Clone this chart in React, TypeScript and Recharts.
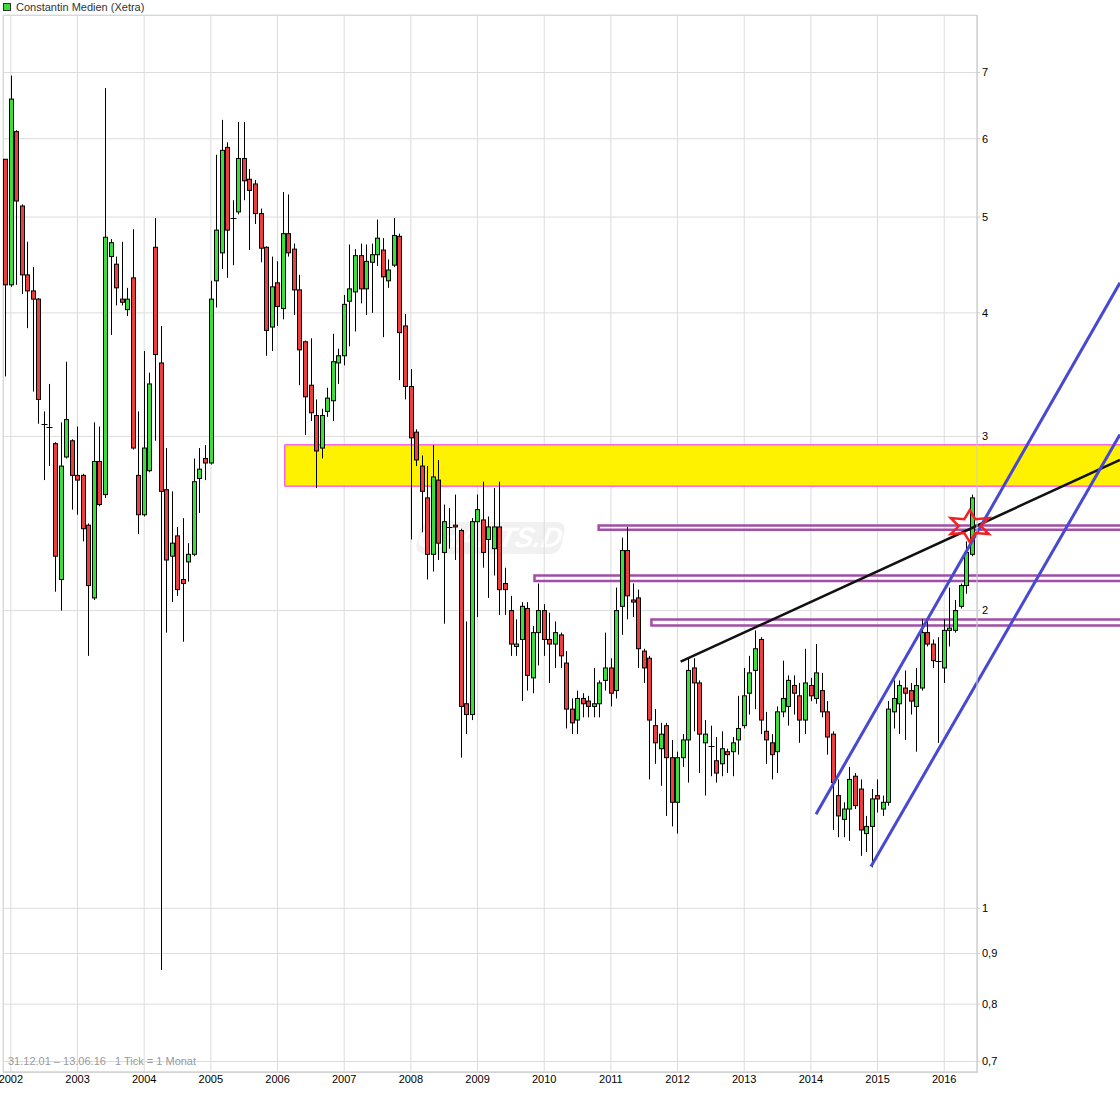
import React from 'react';
import { ComposedChart, Bar, XAxis, YAxis, CartesianGrid, ReferenceLine, ReferenceArea, ReferenceDot } from 'recharts';

// monthly candles, first candle = Dec 2001 (index 0)
const firstMonth = '2001-12';
const opens = [5.72,4.27,6.10,5.13,4.37,4.21,4.13,3.09,3.07,2.95,2.15,2.86,2.97,2.74,2.74,2.44,2.06,2.83,2.62,4.56,4.48,4.13,4.03,4.34,2.74,2.50,2.77,4.66,3.56,2.65,2.27,2.38,2.15,2.24,2.28,2.72,2.85,2.82,4.31,4.60,5.88,4.99,5.06,5.73,5.46,5.40,5.04,4.66,3.87,4.29,4.04,4.81,4.64,4.22,3.74,3.38,3.15,2.92,3.18,3.26,3.56,3.62,4.11,4.20,4.57,4.23,4.50,4.58,4.63,4.31,4.47,4.78,3.88,3.37,3.03,2.80,2.60,2.28,2.71,2.29,2.43,2.44,2.41,1.61,1.57,2.46,2.47,2.36,2.31,2.43,2.13,2.00,1.84,1.87,2.01,1.71,1.90,2.00,1.87,1.85,1.89,1.77,1.59,1.55,1.63,1.62,1.60,1.61,1.70,1.75,1.66,2.02,2.30,2.05,2.06,1.82,1.79,1.53,1.45,1.53,1.42,1.28,1.42,1.48,1.75,1.69,1.47,1.46,1.41,1.40,1.44,1.44,1.48,1.53,1.65,1.74,1.87,1.51,1.47,1.44,1.58,1.60,1.68,1.64,1.55,1.68,1.63,1.66,1.58,1.50,1.30,1.23,1.26,1.36,1.32,1.19,1.21,1.30,1.26,1.28,1.58,1.61,1.67,1.66,1.60,1.67,1.90,1.85,1.78,1.75,1.91,1.91,2.02,2.12,2.28];
const highs = [5.72,6.95,6.12,5.15,4.72,4.45,4.14,3.18,3.39,2.96,3.10,3.57,2.98,3.07,2.75,2.45,3.10,3.07,6.75,4.75,4.56,4.72,4.24,4.86,3.18,3.66,3.48,4.99,3.88,2.92,2.64,2.43,2.48,2.34,2.85,2.92,2.94,4.31,5.78,6.27,5.95,5.20,6.24,6.24,5.59,5.45,5.10,4.67,4.56,4.51,5.30,5.27,4.70,4.37,3.75,3.77,3.27,3.20,3.36,3.81,3.68,4.17,4.69,4.64,4.70,4.69,4.70,4.97,4.76,4.53,4.99,4.81,3.99,3.51,3.05,2.87,2.80,2.94,2.84,2.56,2.54,2.62,2.42,1.95,2.48,2.62,2.70,2.49,2.66,2.70,2.21,2.07,1.96,2.04,2.04,1.93,2.13,2.03,1.99,1.95,1.90,1.82,1.63,1.66,1.65,1.64,1.75,1.70,1.90,1.79,2.11,2.37,2.43,2.13,2.10,1.83,1.80,1.59,1.54,1.54,1.48,1.44,1.50,1.79,1.79,1.70,1.55,1.53,1.49,1.51,1.45,1.49,1.64,1.75,1.80,1.91,1.88,1.58,1.50,1.60,1.78,1.72,1.72,1.69,1.83,1.71,1.85,1.73,1.62,1.51,1.35,1.28,1.39,1.37,1.35,1.24,1.32,1.35,1.30,1.62,1.70,1.70,1.74,1.69,1.75,1.96,1.96,1.87,1.88,1.96,2.11,2.05,2.13,2.35,2.62];
const lows = [3.45,4.25,4.27,4.18,3.86,3.33,3.09,2.71,2.80,2.09,2.00,2.85,2.53,2.50,2.35,1.80,2.05,2.55,2.60,3.80,4.07,4.07,3.97,2.91,2.39,2.49,2.76,2.97,0.866,1.90,2.04,2.07,1.86,2.14,2.27,2.51,2.71,2.81,4.05,4.43,4.34,4.47,5.03,5.20,4.63,4.92,4.50,3.62,3.66,3.88,3.94,4.56,3.98,3.38,3.01,3.11,2.66,2.85,3.14,3.11,3.39,3.54,3.70,3.83,4.09,3.98,4.00,4.46,3.78,4.24,4.45,3.42,3.27,2.36,2.80,2.40,2.15,2.19,2.25,1.94,2.31,2.25,1.42,1.50,1.55,1.97,2.21,2.06,2.17,1.98,1.98,1.80,1.80,1.62,1.66,1.65,1.76,1.80,1.69,1.75,1.75,1.52,1.50,1.50,1.56,1.56,1.56,1.56,1.66,1.60,1.63,1.89,1.96,1.97,1.75,1.69,1.35,1.40,1.33,1.24,1.21,1.19,1.39,1.34,1.51,1.37,1.30,1.36,1.34,1.36,1.37,1.36,1.43,1.52,1.57,1.59,1.50,1.40,1.35,1.37,1.56,1.53,1.57,1.47,1.50,1.62,1.61,1.56,1.43,1.20,1.18,1.18,1.17,1.26,1.13,1.14,1.10,1.25,1.24,1.27,1.52,1.50,1.48,1.57,1.44,1.66,1.84,1.75,1.47,1.69,1.84,1.90,2.01,2.08,2.27];
const closes = [4.27,6.58,5.19,4.37,4.21,4.13,3.27,3.09,3.07,2.27,2.80,3.12,2.74,2.71,2.42,2.12,2.83,2.56,4.77,4.71,4.24,4.10,4.13,2.92,2.50,2.92,3.39,3.63,2.64,2.25,2.34,2.10,2.13,2.28,2.70,2.78,2.82,4.13,4.85,5.84,4.85,4.98,5.73,5.44,5.32,5.04,4.65,3.84,4.25,4.06,4.81,4.60,4.22,3.67,3.29,3.17,2.90,3.15,3.28,3.57,3.62,4.08,4.23,4.57,4.23,4.51,4.58,4.76,4.35,4.42,4.79,3.82,3.37,2.99,2.84,2.64,2.28,2.73,2.34,2.46,2.43,2.43,1.60,1.57,2.46,2.53,2.29,2.43,2.43,2.10,2.10,1.85,1.85,2.02,1.72,1.90,2.00,1.87,1.85,1.90,1.80,1.59,1.54,1.63,1.61,1.60,1.61,1.69,1.75,1.65,2.00,2.30,2.07,2.04,1.83,1.75,1.55,1.47,1.50,1.42,1.28,1.42,1.48,1.74,1.69,1.50,1.50,1.46,1.37,1.45,1.43,1.47,1.52,1.64,1.73,1.83,1.55,1.48,1.43,1.58,1.63,1.70,1.65,1.55,1.69,1.64,1.73,1.58,1.49,1.34,1.24,1.26,1.35,1.27,1.20,1.21,1.29,1.29,1.28,1.59,1.63,1.68,1.65,1.62,1.68,1.90,1.85,1.78,1.78,1.91,1.92,2.00,2.12,2.29,2.60];

const yearLabels = ['2002','2003','2004','2005','2006','2007','2008','2009','2010','2011','2012','2013','2014','2015','2016'];
const yearTickMonths = [1,13,25,37,49,61,73,85,97,109,121,133,145,157,169];
const priceTicks = [0.7,0.8,0.9,1,2,3,4,5,6,7];

// drawn annotations: [monthIndex, price]
const resistanceBand = { fromMonth: 50.3, toMonth: 201, low: 2.672, high: 2.942 };
const purpleZones = [
  { fromMonth: 106.8, low: 2.414, high: 2.438 },
  { fromMonth: 95.25, low: 2.143, high: 2.170 },
  { fromMonth: 116.3, low: 1.932, high: 1.959 },
];
const blackTrend = [[121.56, 1.776], [200.63, 2.84]];
const blueUpper = [[145.92, 1.245], [200.63, 4.29]];
const blueLower = [[155.81, 1.102], [200.63, 3.013]];
const starPoint = [173.6, 2.435];

const GREEN = '#3ae03a';
const RED = '#ee3d3d';
const FONT = '"Liberation Sans", Arial, sans-serif';

const data = opens.map((o, i) => ({ t: i, range: [lows[i], highs[i]], o, h: highs[i], l: lows[i], c: closes[i] }));

const Candle = (props: any) => {
  const { x, y, width, height, payload } = props;
  if (x == null || y == null || !payload) return null;
  const cx = Math.round(x + width / 2) + 0.5;
  const top = Math.min(y, y + height);
  const bot = Math.max(y, y + height);
  const { o, h, l, c } = payload;
  const lh = Math.log(h), ll = Math.log(l);
  const py = (v: number) => (lh === ll ? top : top + ((lh - Math.log(v)) / (lh - ll)) * (bot - top));
  const yo = py(o), yc = py(c);
  const flat = Math.abs(yo - yc) < 1;
  return (
    <g>
      <line x1={cx} x2={cx} y1={top} y2={bot} stroke="#000" strokeWidth={1} />
      {flat ? (
        <line x1={cx - 3} x2={cx + 3} y1={Math.round(yo) + 0.5} y2={Math.round(yo) + 0.5} stroke="#000" strokeWidth={1} />
      ) : (
        <rect x={cx - 2} y={Math.min(yo, yc)} width={4} height={Math.abs(yc - yo)} fill={c > o ? GREEN : RED} stroke="#000" strokeWidth={1} />
      )}
    </g>
  );
};

const Star = (props: any) => {
  const { cx, cy } = props;
  if (cx == null || cy == null) return null;
  const pts: string[] = [];
  for (let k = 0; k < 12; k++) {
    const a = (-90 + k * 30) * Math.PI / 180;
    const outer = k % 2 === 0;
    const rx = outer ? 22 : 11;
    const ry = outer ? 16 : 8;
    pts.push(`${cx + rx * Math.cos(a)},${cy + ry * Math.sin(a)}`);
  }
  return <polygon points={pts.join(' ')} fill="none" stroke="#ee2222" strokeWidth={2.5} />;
};

export default function App() {
  return (
    <div style={{ position: 'relative', width: 1120, height: 1095, fontFamily: FONT, background: '#fff', overflow: 'hidden' }}>
      <style>{'body{margin:0}'}</style>
      <div style={{ position: 'absolute', left: 3, top: 15, width: 973, height: 1056, border: '1px solid #d4d4d4' }} />
      <div style={{ position: 'absolute', left: 418, top: 522, width: 145, height: 32, background: '#f1f1f1', borderRadius: 9, transform: 'skewX(-12deg)', color: '#fff', fontWeight: 'bold', fontStyle: 'italic', fontSize: 28, lineHeight: '32px', textAlign: 'right', paddingRight: 8, boxSizing: 'border-box', fontFamily: FONT }}>CHARTS.DE</div>
      <div style={{ position: 'absolute', left: 3, top: 1, display: 'flex', alignItems: 'center', fontSize: 11, color: '#333' }}>
        <span style={{ display: 'inline-block', width: 6, height: 6, background: GREEN, border: '1px solid #333', marginRight: 5 }} />
        <span>Constantin Medien (Xetra)</span>
      </div>
      <div style={{ position: 'absolute', left: 0, top: 0 }}>
        <ComposedChart width={1120} height={1095} data={data} margin={{ top: 15, right: 0, left: 3, bottom: 0 }}>
          <CartesianGrid stroke="#dcdcdc" strokeWidth={1} />
          <XAxis
            dataKey="t"
            type="number"
            domain={[-0.414, 174.9]}
            allowDataOverflow
            ticks={yearTickMonths}
            interval={0}
            tickFormatter={(v: number) => yearLabels[yearTickMonths.indexOf(v)] ?? ''}
            tickLine={false}
            tickSize={1}
            tickMargin={2}
            height={23}
            axisLine={{ stroke: '#cfcfcf' }}
            tick={{ fontSize: 11, fill: '#000', fontFamily: FONT }}
          />
          <YAxis
            orientation="right"
            scale="log"
            domain={[0.6831, 8.003]}
            allowDataOverflow
            ticks={priceTicks}
            interval={0}
            tickFormatter={(v: number) => String(v).replace('.', ',')}
            width={143}
            tickSize={3}
            tickMargin={2}
            tickLine={{ stroke: '#cfcfcf' }}
            axisLine={{ stroke: '#cfcfcf' }}
            tick={{ fontSize: 11, fill: '#000', fontFamily: FONT }}
          />
          <ReferenceArea x1={resistanceBand.fromMonth} x2={resistanceBand.toMonth} y1={resistanceBand.low} y2={resistanceBand.high} ifOverflow="visible" fill="#fff200" fillOpacity={1} stroke="#ff22ff" strokeWidth={1} />
          {purpleZones.map((z, k) => (
            <ReferenceArea key={k} x1={z.fromMonth} x2={202} y1={z.low} y2={z.high} ifOverflow="visible" fill="none" fillOpacity={0} stroke="#a24da8" strokeWidth={2.5} />
          ))}
          <Bar dataKey="range" shape={<Candle />} isAnimationActive={false} barSize={5} />
          <ReferenceLine segment={[{ x: blackTrend[0][0], y: blackTrend[0][1] }, { x: blackTrend[1][0], y: blackTrend[1][1] }]} ifOverflow="visible" stroke="#111" strokeWidth={2.5} />
          <ReferenceLine segment={[{ x: blueUpper[0][0], y: blueUpper[0][1] }, { x: blueUpper[1][0], y: blueUpper[1][1] }]} ifOverflow="visible" stroke="#4848d2" strokeWidth={3} />
          <ReferenceLine segment={[{ x: blueLower[0][0], y: blueLower[0][1] }, { x: blueLower[1][0], y: blueLower[1][1] }]} ifOverflow="visible" stroke="#4848d2" strokeWidth={3} />
          <ReferenceDot x={starPoint[0]} y={starPoint[1]} ifOverflow="visible" shape={<Star />} />
        </ComposedChart>
      </div>
      <div style={{ position: 'absolute', left: 8, top: 1055, fontSize: 11, color: '#9a9a9a', whiteSpace: 'pre' }}>31.12.01 – 13.06.16   1 Tick = 1 Monat</div>
    </div>
  );
}
